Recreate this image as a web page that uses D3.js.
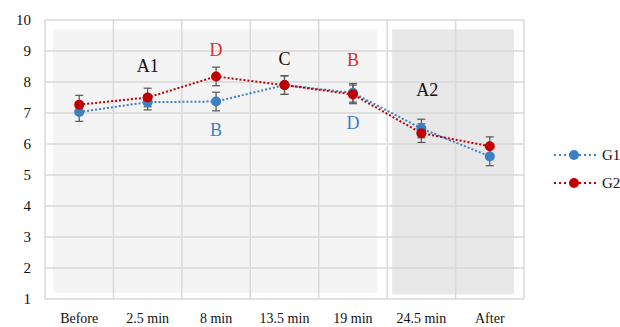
<!DOCTYPE html>
<html>
<head>
<meta charset="utf-8">
<script src="https://cdn.jsdelivr.net/npm/d3@7"></script>
<style>
  body { margin: 0; background: #fff; }
</style>
</head>
<body>
<svg id="chart" width="620" height="327" font-family="'Liberation Serif', 'DejaVu Serif', serif"></svg>
<script>
const categories = ["Before", "2.5 min", "8 min", "13.5 min", "19 min", "24.5 min", "After"];
const g1 = [7.03, 7.35, 7.37, 7.9, 7.65, 6.5, 5.6];
const g2 = [7.27, 7.5, 8.18, 7.9, 7.6, 6.35, 5.93];
const g1Err = [0.3, 0.25, 0.3, 0.3, 0.3, 0.3, 0.3];
const g2Err = [0.3, 0.3, 0.3, 0.3, 0.3, 0.3, 0.3];
const yTicks = [1, 2, 3, 4, 5, 6, 7, 8, 9, 10];
const labels = [
  { cat: "2.5 min", v: 8.32, text: "A1", color: "#111" },
  { cat: "8 min", v: 8.84, text: "D", color: "#dc2f2f" },
  { cat: "8 min", v: 6.26, text: "B", color: "#3b7fc4" },
  { cat: "13.5 min", v: 8.55, text: "C", color: "#111" },
  { cat: "19 min", v: 8.52, text: "B", color: "#dc2f2f" },
  { cat: "19 min", v: 6.48, text: "D", color: "#3b7fc4" },
  { cat: "24.5 min", v: 7.55, text: "A2", color: "#111", dx: 6 }
];

const margin = { top: 20, right: 96, bottom: 28, left: 45 };
const width = 620, height = 327;
const svg = d3.select("#chart");

const x = d3.scaleBand().domain(categories).range([margin.left, width - margin.right]);
const y = d3.scaleLinear().domain([1, 10]).range([height - margin.bottom, margin.top]);
const cx = (c) => x(c) + x.bandwidth() / 2;

// background shading
svg.append("rect")
  .attr("x", x(categories[0]) + 8).attr("y", y(9.7))
  .attr("width", x(categories[4]) + x.bandwidth() - 10 - (x(categories[0]) + 8))
  .attr("height", y(1.2) - y(9.7))
  .attr("fill", "#f4f4f4");
svg.append("rect")
  .attr("x", x(categories[5]) + 5).attr("y", y(9.7))
  .attr("width", x(categories[6]) + x.bandwidth() - 10 - (x(categories[5]) + 5))
  .attr("height", y(1.15) - y(9.7))
  .attr("fill", "#e8e8e8");

// gridlines
svg.append("g").selectAll("line").data(yTicks).join("line")
  .attr("x1", margin.left).attr("x2", width - margin.right)
  .attr("y1", (d) => y(d)).attr("y2", (d) => y(d))
  .attr("stroke", "#d9d9d9").attr("stroke-width", 1.5);
const bounds = categories.map((c) => x(c)).concat([x(categories[6]) + x.bandwidth()]);
svg.append("g").selectAll("line").data(bounds).join("line")
  .attr("x1", (d) => d).attr("x2", (d) => d)
  .attr("y1", y(1)).attr("y2", y(10))
  .attr("stroke", "#d9d9d9").attr("stroke-width", 1.5);

// y axis labels
svg.append("g").selectAll("text").data(yTicks).join("text")
  .attr("x", 31).attr("y", (d) => y(d) + 5)
  .attr("text-anchor", "end").style("font-size", "15px").attr("fill", "#111")
  .text((d) => d);

// x axis labels
svg.append("g").selectAll("text").data(categories).join("text")
  .attr("x", (d) => cx(d)).attr("y", 323)
  .attr("text-anchor", "middle").style("font-size", "14px").attr("fill", "#111")
  .text((d) => d);

const series = [
  { name: "G1", values: g1, err: g1Err, color: "#3b7fc4" },
  { name: "G2", values: g2, err: g2Err, color: "#c00000" }
];

const line = d3.line().x((d, i) => cx(categories[i])).y((d) => y(d));

series.forEach((s) => {
  svg.append("path")
    .attr("d", line(s.values))
    .attr("fill", "none").attr("stroke", s.color)
    .attr("stroke-width", 2).attr("stroke-dasharray", "2,2");
});

// error bars
series.forEach((s) => {
  const g = svg.append("g").attr("stroke", "#555").attr("stroke-width", 1.2);
  s.values.forEach((v, i) => {
    const px = cx(categories[i]);
    g.append("line").attr("x1", px).attr("x2", px).attr("y1", y(v - s.err[i])).attr("y2", y(v + s.err[i]));
    g.append("line").attr("x1", px - 4).attr("x2", px + 4).attr("y1", y(v - s.err[i])).attr("y2", y(v - s.err[i]));
    g.append("line").attr("x1", px - 4).attr("x2", px + 4).attr("y1", y(v + s.err[i])).attr("y2", y(v + s.err[i]));
  });
});

series.forEach((s) => {
  svg.append("g").selectAll("circle").data(s.values).join("circle")
    .attr("cx", (d, i) => cx(categories[i])).attr("cy", (d) => y(d))
    .attr("r", 5).attr("fill", s.color);
});

// letters
svg.append("g").selectAll("text").data(labels).join("text")
  .attr("x", (d) => cx(d.cat) + (d.dx || 0)).attr("y", (d) => y(d.v))
  .attr("text-anchor", "middle").style("font-size", "18px")
  .attr("fill", (d) => d.color).text((d) => d.text);

// legend
const legend = svg.append("g");
series.forEach((s, i) => {
  const ly = 155 + i * 28;
  legend.append("line").attr("x1", 554).attr("x2", 597).attr("y1", ly).attr("y2", ly)
    .attr("stroke", s.color).attr("stroke-width", 2).attr("stroke-dasharray", "2,3");
  legend.append("circle").attr("cx", 574).attr("cy", ly).attr("r", 5).attr("fill", s.color);
  legend.append("text").attr("x", 602).attr("y", ly + 5).style("font-size", "15px")
    .attr("fill", "#111").text(s.name);
});
</script>
</body>
</html>
